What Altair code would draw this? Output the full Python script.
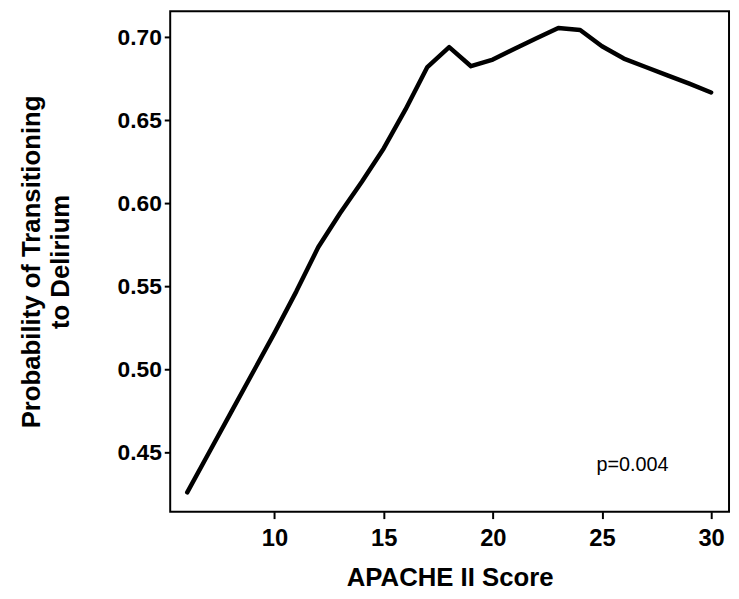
import altair as alt
import pandas as pd

apache = [6, 7, 8, 9, 10, 11, 12, 13, 14, 15, 16, 17, 18, 19, 20, 21, 22, 23, 24, 25, 26, 27, 28, 29, 30]
prob = [0.426, 0.450, 0.474, 0.498, 0.522, 0.547, 0.5735, 0.594, 0.613, 0.633, 0.6565, 0.682,
        0.694, 0.6825, 0.6865, 0.693, 0.6993, 0.7055, 0.7043, 0.6945, 0.6871, 0.682, 0.677, 0.672, 0.6667]

note_text = ["p=0.004"]
note_x = [26.4]
note_y = [0.4423]

x_ticks = [10, 15, 20, 25, 30]
y_ticks = [0.45, 0.50, 0.55, 0.60, 0.65, 0.70]

df = pd.DataFrame({"apache": apache, "prob": prob})
notes = pd.DataFrame({"text": note_text, "x": note_x, "y": note_y})

FONT = "Liberation Sans"
W, H = 565, 506

xs = alt.Scale(domain=[5.22, 30.82], nice=False, zero=False)
ys = alt.Scale(domain=[0.4144, 0.7156], nice=False, zero=False)

line = alt.Chart(df).mark_line(color="black", strokeWidth=4.5, strokeJoin="round", strokeCap="round").encode(
    x=alt.X("apache:Q", scale=xs,
            axis=alt.Axis(values=x_ticks, title="APACHE II Score", domain=False, grid=False,
                          tickColor="black", tickSize=7, tickWidth=2, labelPadding=8,
                          labelFont=FONT, labelFontSize=24, labelFontWeight="bold", labelColor="black",
                          titleFont=FONT, titleFontSize=26, titleFontWeight="bold", titleColor="black",
                          titleY=67, titleBaseline="middle")),
    y=alt.Y("prob:Q", scale=ys,
            axis=alt.Axis(values=y_ticks, format=".2f", domain=False, grid=False,
                          title=["Probability of Transitioning", "to Delirium"],
                          tickColor="black", tickSize=6, tickWidth=2, labelPadding=3,
                          labelFont=FONT, labelFontSize=23, labelFontWeight="bold", labelColor="black",
                          titleFont=FONT, titleFontSize=26, titleFontWeight="bold", titleColor="black",
                          titleAngle=-90, titleX=-140, titleY=H / 2, titleAlign="center",
                          titleBaseline="middle", titleLineHeight=29)),
)

text = alt.Chart(notes).mark_text(font=FONT, fontSize=20, color="black").encode(
    x=alt.X("x:Q", scale=xs), y=alt.Y("y:Q", scale=ys), text="text:N"
)

chart = (line + text).properties(
    width=W, height=H,
    background="white",
    autosize=alt.AutoSizeParams(type="none"),
    padding={"left": 164, "top": 0, "right": 2, "bottom": 80},
).configure_view(stroke="black", strokeWidth=2)

chart.save("out.html", embed_options={"renderer": "svg", "actions": False})
